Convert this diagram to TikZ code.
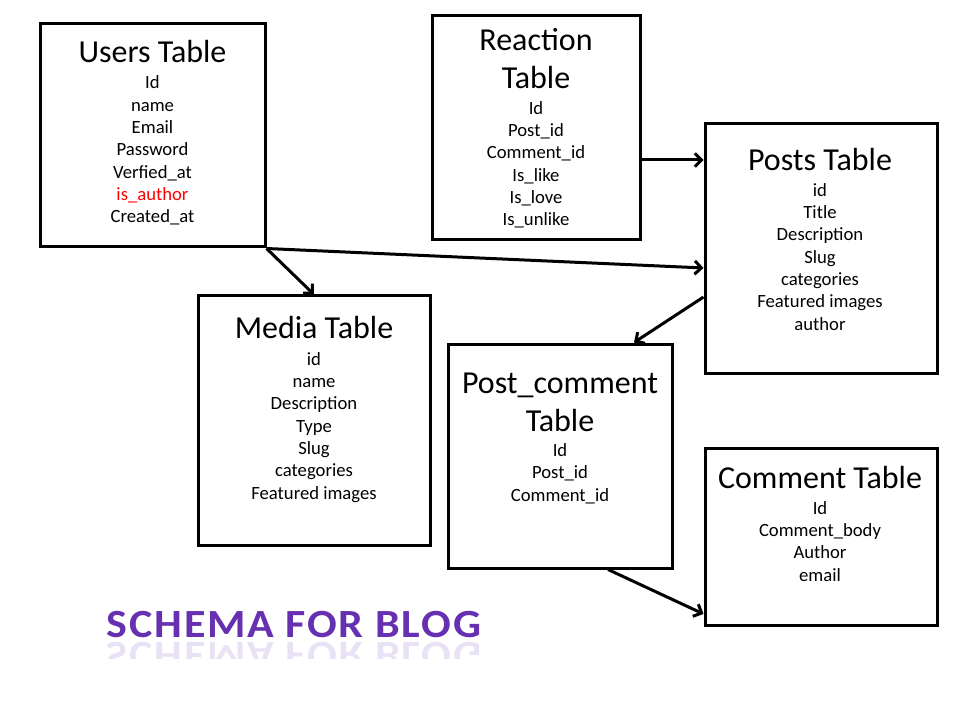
\documentclass[tikz,border=0pt]{standalone}
\usepackage{fontspec}
\setmainfont{Carlito}
\newfontfamily\headfont[LetterSpace=4]{Carlito}
\definecolor{ink}{HTML}{000000}
\definecolor{flagred}{HTML}{FF0000}
\definecolor{schemapurple}{HTML}{6630B0}
\usetikzlibrary{arrows.meta, calc}
\tikzset{
  tbl/.style={draw=ink, line width=2.25pt, inner sep=0pt},
  ttl/.style={anchor=base, inner sep=0pt, align=center,
    font=\fontsize{24}{28.5}\selectfont},
  fld/.style={anchor=base, inner sep=0pt, align=center,
    font=\fontsize{14}{16.75}\selectfont},
  arr/.style={-{Straight Barb[length=5pt,width=10pt]}, line width=2.25pt, color=ink},
  head/.style={anchor=base, inner sep=0pt, text=schemapurple, xscale=1.1, transform shape,
    font=\headfont\fontsize{30}{36}\selectfont\bfseries},
}
\begin{document}
\begin{tikzpicture}[x=0.75pt, y=-0.75pt]
  \useasboundingbox (0,0) rectangle (960,720);

  % tables (text nodes sit on the baseline of their last line)
  \node[tbl, minimum width=168.75pt, minimum height=167.25pt] (users) at (152.5,135.5) {};
  \node[ttl] (users-t) at (152.5,63) {Users Table};
  \node[fld] (users-f) at (152.5,223)
    {Id\\name\\Email\\Password\\Verfied\_at\\\textcolor{flagred}{is\_author}\\Created\_at};

  \node[tbl, minimum width=156pt, minimum height=168pt] (reaction) at (536,128) {};
  \node[ttl] (reaction-t) at (536,89) {Reaction\\Table};
  \node[fld] (reaction-f) at (536,226)
    {Id\\Post\_id\\Comment\_id\\Is\_like\\Is\_love\\Is\_unlike};

  \node[tbl, minimum width=174pt, minimum height=186.75pt] (posts) at (821,248.5) {};
  \node[ttl] (posts-t) at (820,171) {Posts Table};
  \node[fld] (posts-f) at (820,330)
    {id\\Title\\Description\\Slug\\categories\\Featured images\\author};

  \node[tbl, minimum width=174pt, minimum height=186.75pt] (media) at (314,420.5) {};
  \node[ttl] (media-t) at (314,339) {Media Table};
  \node[fld] (media-f) at (314,499)
    {id\\name\\Description\\Type\\Slug\\categories\\Featured images};

  \node[tbl, minimum width=168pt, minimum height=168pt] (pcomment) at (560,456) {};
  \node[ttl] (pcomment-t) at (560,431) {Post\_comment\\Table};
  \node[fld] (pcomment-f) at (560,501) {Id\\Post\_id\\Comment\_id};

  \node[tbl, minimum width=174pt, minimum height=132.75pt] (comment) at (821,536.5) {};
  \node[ttl] (comment-t) at (820,488) {Comment Table};
  \node[fld] (comment-f) at (820,581) {Id\\Comment\_body\\Author\\email};

  % links
  \draw[arr] ([yshift=-24pt]reaction.east) -- ([yshift=-24pt]reaction.east -| posts.west);
  \draw[arr] (users.south east) -- ([yshift=-14.6pt]posts.west);
  \draw[arr] (users.south east) -- (media.north);
  \draw[arr] ([yshift=-36.4pt]posts.west) -- ([xshift=55.5pt]pcomment.north);
  \draw[arr] ([xshift=36pt]pcomment.south) -- ([yshift=-58.1pt]comment.west);

  % heading with reflection
  \node[head] (schema) at (294,637) {SCHEMA FOR BLOG};
  \begin{scope}
    \clip (80,640) rectangle (520,658);
    \node[head, opacity=0.14, yscale=-1] (schema-r) at (294,642) {SCHEMA FOR BLOG};
  \end{scope}
\end{tikzpicture}
\end{document}
